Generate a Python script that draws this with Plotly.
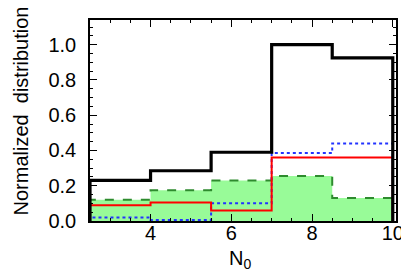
import plotly.graph_objects as go

# Bin edges and histogram values
bin_edges = [2.5, 4.0, 5.5, 7.0, 8.5, 10.0]
black_vals = [0.23, 0.285, 0.39, 1.0, 0.925]
green_vals = [0.12, 0.175, 0.23, 0.255, 0.13]
red_vals = [0.09, 0.105, 0.06, 0.36, 0.36]
blue_vals = [0.02, 0.005, 0.10, 0.385, 0.44]

x_ticks = [4, 6, 8, 10]
y_ticks = [0.0, 0.2, 0.4, 0.6, 0.8, 1.0]
y_ticklabels = ["0.0", "0.2", "0.4", "0.6", "0.8", "1.0"]


def step_xy(edges, vals):
    xs = [edges[0]] + list(edges[:-1]) + [edges[-1], edges[-1]]
    ys = [0] + list(vals) + [vals[-1], 0]
    return xs, ys


FONT = "Liberation Sans, Arial, Helvetica, sans-serif"
FS = 20
fig = go.Figure()

gx, gy = step_xy(bin_edges, green_vals)
fig.add_trace(go.Scatter(x=gx, y=gy, mode="lines", line_shape="hv",
                         fill="tozeroy", fillcolor="#98FB98",
                         line=dict(color="#2E8B2E", width=2, dash="dash"),
                         showlegend=False))

bx, by = step_xy(bin_edges, blue_vals)
fig.add_trace(go.Scatter(x=bx, y=by, mode="lines", line_shape="hv",
                         line=dict(color="#2233FF", width=2, dash="dot"),
                         showlegend=False))

rx, ry = step_xy(bin_edges, red_vals)
fig.add_trace(go.Scatter(x=rx, y=ry, mode="lines", line_shape="hv",
                         line=dict(color="#FF0000", width=2),
                         showlegend=False))

kx, ky = step_xy(bin_edges, black_vals)
fig.add_trace(go.Scatter(x=kx, y=ky, mode="lines", line_shape="hv",
                         line=dict(color="#000000", width=3.2),
                         showlegend=False))

fig.update_layout(
    width=409, height=273,
    margin=dict(l=82, r=21, t=10, b=60),
    plot_bgcolor="white", paper_bgcolor="white",
    font=dict(family=FONT, size=FS, color="black"),
    showlegend=False,
)

fig.update_xaxes(
    range=[2.5, 10.08], showgrid=False, zeroline=False,
    showline=True, linecolor="black", linewidth=1.5, mirror="ticks",
    ticks="inside", ticklen=7, tickwidth=1.2, tickcolor="black",
    tickvals=x_ticks, ticktext=[str(v) for v in x_ticks],
    ticklabelstandoff=-7,
    minor=dict(ticks="inside", dtick=0.5, ticklen=3.5, tickcolor="black", tickwidth=1),
    tickfont=dict(size=FS, family=FONT),
)
fig.update_yaxes(
    range=[0, 1.14], showgrid=False, zeroline=False,
    showline=True, linecolor="black", linewidth=1.5, mirror="ticks",
    ticks="inside", ticklen=7, tickwidth=1.2, tickcolor="black",
    tickvals=y_ticks, ticktext=y_ticklabels,
    ticklabelstandoff=8,
    minor=dict(ticks="inside", dtick=0.05, ticklen=3.5, tickcolor="black", tickwidth=1),
    tickfont=dict(size=FS, family=FONT),
)

fig.add_annotation(text="Normalized  distribution", xref="paper", yref="paper",
                   x=0, y=0.5, xshift=-70, yshift=9, textangle=-90,
                   showarrow=False, xanchor="center", yanchor="middle",
                   font=dict(size=FS, family=FONT))
fig.add_annotation(text="N<sub>0</sub>", xref="paper", yref="paper",
                   x=0.49, y=0, yshift=-38, showarrow=False,
                   xanchor="center", yanchor="middle",
                   font=dict(size=FS, family=FONT))

fig.write_html("out.html")
